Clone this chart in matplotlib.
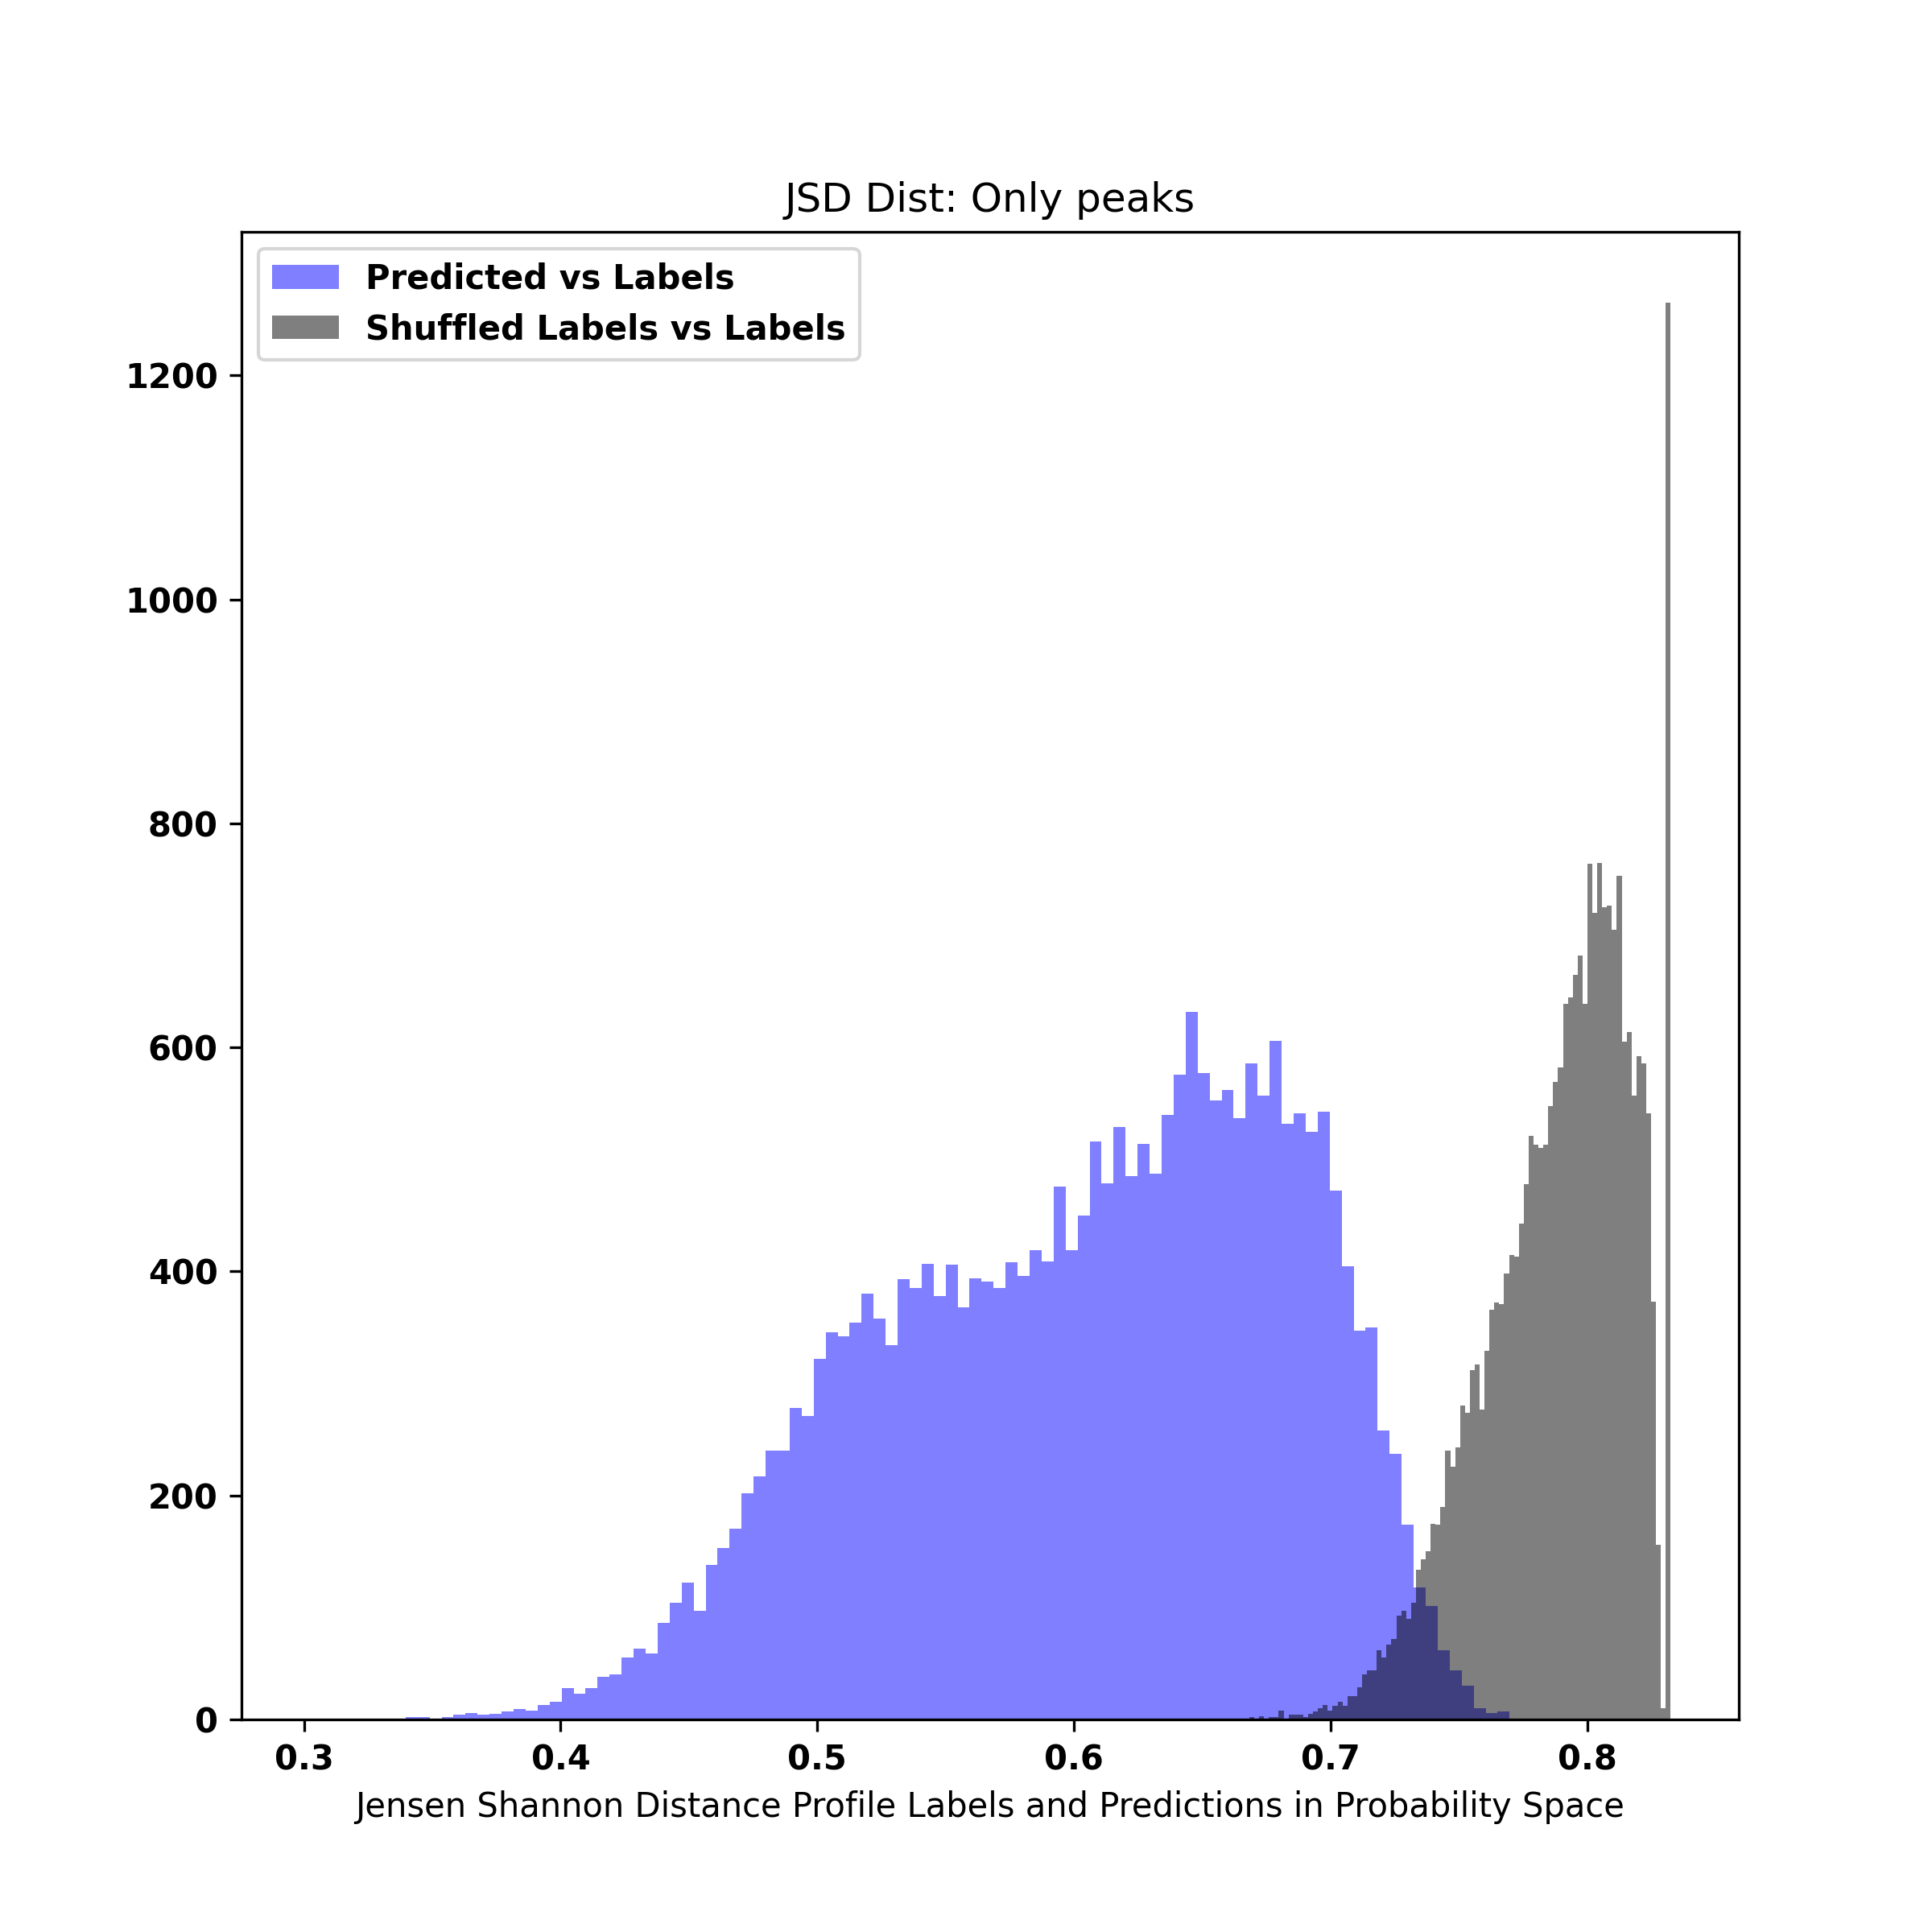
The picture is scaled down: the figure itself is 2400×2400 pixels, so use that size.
import numpy as np
import matplotlib
matplotlib.use("Agg")
import matplotlib.pyplot as plt

# Histogram 1: Predicted vs Labels (100 bins)
pred_min, pred_max = 0.3022, 0.76975
pred_counts = [1, 0, 0, 0, 0, 0, 0, 0, 2, 2,
               1, 2, 4, 6, 4, 5, 7, 9, 8, 13,
               16, 28, 23, 28, 38, 40, 55, 63, 59, 86,
               104, 122, 97, 138, 153, 170, 202, 217, 240, 240,
               278, 271, 322, 346, 342, 354, 380, 358, 334, 393,
               385, 407, 378, 406, 368, 394, 391, 385, 408, 396,
               419, 409, 476, 419, 450, 516, 479, 529, 485, 514,
               487, 540, 576, 632, 577, 553, 562, 537, 586, 557,
               606, 532, 541, 525, 543, 472, 405, 347, 350, 258,
               237, 174, 118, 101, 62, 44, 30, 10, 6, 7]

# Histogram 2: Shuffled Labels vs Labels (100 bins)
shuf_min, shuf_max = 0.6416, 0.8325
shuf_counts = [1, 0, 0, 0, 0, 0, 0, 0, 0, 0,
               0, 0, 0, 0, 2, 0, 3, 0, 2, 2,
               8, 0, 4, 4, 4, 2, 5, 7, 10, 13,
               8, 12, 16, 12, 21, 21, 29, 40, 44, 44,
               62, 55, 67, 72, 93, 97, 90, 104, 134, 143,
               150, 175, 174, 190, 240, 226, 243, 280, 274, 312,
               317, 277, 329, 366, 372, 371, 398, 415, 413, 443,
               478, 521, 513, 510, 513, 548, 569, 582, 639, 645,
               665, 682, 639, 764, 720, 765, 725, 727, 705, 753,
               605, 614, 557, 592, 586, 541, 373, 156, 10, 1265]

labels = ["Predicted vs Labels", "Shuffled Labels vs Labels"]
title = "JSD Dist: Only peaks"
xlabel = "Jensen Shannon Distance Profile Labels and Predictions in Probability Space"

pred_edges = np.linspace(pred_min, pred_max, len(pred_counts) + 1)
shuf_edges = np.linspace(shuf_min, shuf_max, len(shuf_counts) + 1)
pred_centers = 0.5 * (pred_edges[:-1] + pred_edges[1:])
shuf_centers = 0.5 * (shuf_edges[:-1] + shuf_edges[1:])

fig, ax = plt.subplots(figsize=(8, 8), dpi=300)
ax.hist(pred_centers, bins=pred_edges, weights=pred_counts,
        color="blue", alpha=0.5, label=labels[0])
ax.hist(shuf_centers, bins=shuf_edges, weights=shuf_counts,
        color="black", alpha=0.5, label=labels[1])

ax.set_title(title)
ax.set_xlabel(xlabel)
for t in ax.get_xticklabels() + ax.get_yticklabels():
    t.set_fontweight("bold")
ax.legend(loc="upper left", prop={"weight": "bold"})

fig.savefig("out.png", dpi=300)
